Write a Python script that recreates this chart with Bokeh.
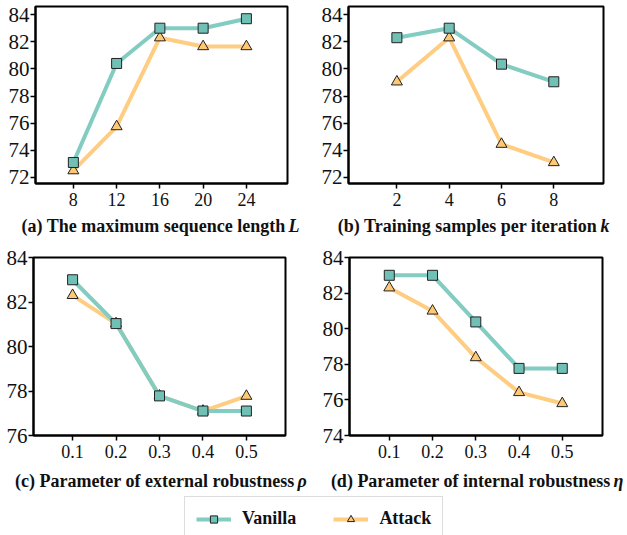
from bokeh.plotting import figure
from bokeh.models import Range1d, Label, Legend, LegendItem, ColumnDataSource, FixedTicker
from bokeh.layouts import column, row
from bokeh.embed import file_html
from bokeh.resources import INLINE

# ---------------- data ----------------
L_vals = [8, 12, 16, 20, 24]
a_vanilla = [73.1, 80.4, 83.0, 83.0, 83.7]
a_attack = [72.5, 75.75, 82.3, 81.65, 81.65]

k_vals = [2, 4, 6, 8]
b_vanilla = [82.3, 83.0, 80.35, 79.05]
b_attack = [79.05, 82.3, 74.45, 73.1]

rho_vals = [0.1, 0.2, 0.3, 0.4, 0.5]
c_vanilla = [83.0, 81.03, 77.78, 77.1, 77.1]
c_attack = [82.3, 81.03, 77.78, 77.1, 77.77]

eta_vals = [0.1, 0.2, 0.3, 0.4, 0.5]
d_vanilla = [83.0, 83.0, 80.38, 77.77, 77.77]
d_attack = [82.3, 81.0, 78.38, 76.42, 75.8]

series_names = ["Vanilla", "Attack"]
captions = [
    ("(a) The maximum sequence length", "L"),
    ("(b) Training samples per iteration", "k"),
    ("(c) Parameter of external robustness", "\u03c1"),
    ("(d) Parameter of internal robustness", "\u03b7"),
]

# ---------------- style ----------------
TEAL_LINE = "#82CCC2"
TEAL_FILL = "#70C0B6"
ORANGE_LINE = "#FFCD82"
ORANGE_FILL = "#FFC875"
FONT = "Liberation Serif"
W = 627


def make_panel(xs, van, att, xr, yr, yticks, w, h, bl, br, bt, bb):
    p = figure(width=w, height=h, x_range=Range1d(*xr), y_range=Range1d(*yr),
               output_backend="svg", toolbar_location=None,
               min_border_left=bl, min_border_right=br,
               min_border_top=bt, min_border_bottom=bb)
    p.xgrid.visible = False
    p.ygrid.visible = False
    p.outline_line_color = "black"
    p.outline_line_width = 2
    p.background_fill_color = "white"
    p.border_fill_color = "white"
    for ax in (p.xaxis[0], p.yaxis[0]):
        ax.axis_line_width = 2
        ax.axis_line_color = "black"
        ax.major_tick_line_width = 1.5
        ax.major_tick_out = 5
        ax.major_tick_in = 0
        ax.minor_tick_line_color = None
        ax.major_label_text_font = FONT
        ax.major_label_text_color = "#111111"
    p.xaxis.ticker = FixedTicker(ticks=list(xs))
    p.yaxis.ticker = FixedTicker(ticks=list(yticks))
    p.xaxis.major_label_text_font_size = "18px"
    p.yaxis.major_label_text_font_size = "21px"
    p.xaxis.major_label_standoff = 4
    p.yaxis.major_label_standoff = 1

    src = ColumnDataSource(dict(x=list(xs), v=list(van), a=list(att)))
    p.line("x", "a", source=src, line_color=ORANGE_LINE, line_width=4)
    p.scatter("x", "a", source=src, marker="triangle", size=11,
              fill_color=ORANGE_FILL, line_color="#222222", line_width=1)
    p.line("x", "v", source=src, line_color=TEAL_LINE, line_width=4)
    p.scatter("x", "v", source=src, marker="square", size=10,
              fill_color=TEAL_FILL, line_color="#222222", line_width=1)
    return p


def strip(h):
    s = figure(width=W, height=h, x_range=Range1d(0, 1), y_range=Range1d(0, 1),
               output_backend="svg", toolbar_location=None,
               min_border_left=0, min_border_right=0, min_border_top=0, min_border_bottom=0)
    s.axis.visible = False
    s.xgrid.visible = False
    s.ygrid.visible = False
    s.outline_line_color = None
    return s


def add_caption(s, cap, x_end, y):
    main, ital = cap
    s.add_layout(Label(x=x_end, y=y, x_units="screen", y_units="screen",
                       text=main, text_font=FONT, text_font_style="bold",
                       text_font_size="18px", text_align="right",
                       text_baseline="middle", text_color="#111111"))
    s.add_layout(Label(x=x_end + 3, y=y, x_units="screen", y_units="screen",
                       text=ital, text_font=FONT, text_font_style="bold italic",
                       text_font_size="18px", text_align="left",
                       text_baseline="middle", text_color="#111111"))


row1_ticks = [72, 74, 76, 78, 80, 82, 84]
pa = make_panel(L_vals, a_vanilla, a_attack, (4.5, 27.8), (71.55, 84.6), row1_ticks,
                315, 213, 35, 28, 6, 30)
pb = make_panel(k_vals, b_vanilla, b_attack, (0.15, 9.9), (71.55, 84.6), row1_ticks,
                312, 213, 33, 24, 6, 30)
pc = make_panel(rho_vals, c_vanilla, c_attack, (0.01, 0.59), (76, 84), [76, 78, 80, 82, 84],
                315, 225, 33, 30, 17, 30)
pd = make_panel(eta_vals, d_vanilla, d_attack, (0.008, 0.593), (74, 84), [74, 76, 78, 80, 82, 84],
                312, 225, 34, 25, 17, 30)

cap1 = strip(27)
add_caption(cap1, captions[0], 285, 15)
add_caption(cap1, captions[1], 597, 15)
cap2 = strip(27)
add_caption(cap2, captions[2], 294, 12)
add_caption(cap2, captions[3], 610, 12)

# ---------------- legend strip ----------------
pl = strip(43)
src_l = ColumnDataSource(dict(x=L_vals, v=a_vanilla, a=a_attack))  # lies outside the strip's view
lv = pl.line("x", "v", source=src_l, line_color=TEAL_LINE, line_width=4)
sv = pl.scatter("x", "v", source=src_l, marker="square", size=10,
                fill_color=TEAL_FILL, line_color="#222222", line_width=1)
la = pl.line("x", "a", source=src_l, line_color=ORANGE_LINE, line_width=4)
sa = pl.scatter("x", "a", source=src_l, marker="triangle", size=11,
                fill_color=ORANGE_FILL, line_color="#222222", line_width=1)
leg = Legend(items=[LegendItem(label=series_names[0], renderers=[lv, sv]),
                    LegendItem(label=series_names[1], renderers=[la, sa])],
             orientation="horizontal", location=(184, -6),
             border_line_color="#bbbbbb", border_line_width=1,
             background_fill_color="white", background_fill_alpha=1,
             padding=11, spacing=37, glyph_width=35, glyph_height=18,
             label_standoff=11, label_height=20, margin=0,
             label_text_font=FONT, label_text_font_style="bold",
             label_text_font_size="18px", label_text_color="#111111")
pl.add_layout(leg, "center")

layout = column(row(pa, pb), cap1, row(pc, pd), cap2, pl)

open("out.html", "w").write(file_html(layout, INLINE))
